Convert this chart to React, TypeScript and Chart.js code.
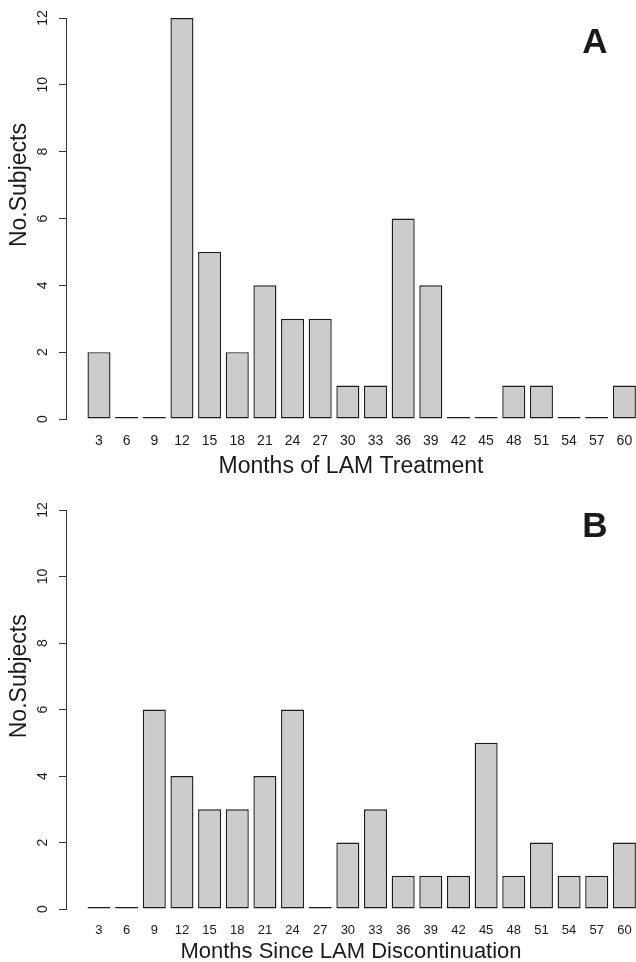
import React, { useEffect, useRef } from "react";
import { Chart, registerables } from "chart.js";

Chart.register(...registerables);

const months = [3, 6, 9, 12, 15, 18, 21, 24, 27, 30, 33, 36, 39, 42, 45, 48, 51, 54, 57, 60];
const treatmentCounts = [2, 0, 0, 12, 5, 2, 4, 3, 3, 1, 1, 6, 4, 0, 0, 1, 1, 0, 0, 1];
const discontinuationCounts = [0, 0, 6, 4, 3, 3, 4, 6, 0, 2, 3, 1, 1, 1, 5, 1, 2, 1, 1, 2];
const yTicks = [0, 2, 4, 6, 8, 10, 12];
const yTitle = "No.Subjects";
const xTitleA = "Months of LAM Treatment";
const xTitleB = "Months Since LAM Discontinuation";

const FONT = '"Liberation Sans", Arial, Helvetica, sans-serif';
const INK = "#1a1a1a";

const textPlugin = {
  id: "rText",
  afterDraw(chart: any, _args: any, opts: any) {
    const ctx = chart.ctx;
    const ys = chart.scales.y;
    const left = chart.chartArea.left;
    ctx.save();
    ctx.fillStyle = INK;
    ctx.textAlign = "center";
    ctx.textBaseline = "alphabetic";
    ctx.font = `14px ${FONT}`;
    for (const t of ys.ticks) {
      const py = ys.getPixelForValue(t.value);
      ctx.save();
      ctx.translate(left - 19, py);
      ctx.rotate(-Math.PI / 2);
      ctx.fillText(String(t.value), 0, 0);
      ctx.restore();
    }
    ctx.font = `23px ${FONT}`;
    ctx.save();
    ctx.translate(left - 40, ys.getPixelForValue(7));
    ctx.rotate(-Math.PI / 2);
    ctx.fillText(opts.yTitle, 0, 0);
    ctx.restore();
    ctx.font = `bold 35px ${FONT}`;
    ctx.fillText(opts.letter, 595, opts.letterY);
    ctx.restore();
  },
};

type PanelProps = {
  values: number[];
  letter: string;
  xTitle: string;
  topPad: number;
  xHeight: number;
  titlePadBottom: number;
  letterY: number;
  tickSize: number;
  tickPad: number;
  titleSize: number;
};

function Panel(p: PanelProps) {
  const ref = useRef<HTMLCanvasElement | null>(null);
  useEffect(() => {
    if (!ref.current) return;
    const data = p.values.map((v, i) => ({ x: i, y: v }));
    const chart = new Chart(ref.current, {
      type: "bar",
      data: {
        datasets: [
          {
            data: data as any,
            backgroundColor: "#cccccc",
            borderColor: "#1c1c1c",
            borderWidth: 1.4,
            borderSkipped: false,
            minBarLength: 2,
            categoryPercentage: 1,
            barPercentage: 0.833,
          },
        ],
      },
      options: {
        animation: false,
        responsive: false,
        devicePixelRatio: 1,
        layout: { padding: { top: p.topPad, left: 0, right: 0, bottom: 0 } },
        plugins: {
          legend: { display: false },
          tooltip: { enabled: false },
          rText: { letter: p.letter, yTitle, letterY: p.letterY },
        } as any,
        scales: {
          x: {
            type: "linear",
            min: -1.193,
            max: 19.42,
            offset: false,
            grid: { display: false, drawTicks: false, offset: false },
            border: { display: false },
            afterBuildTicks: (s: any) => {
              s.ticks = months.map((_, i) => ({ value: i }));
            },
            afterFit: (s: any) => {
              s.height = p.xHeight;
              s.paddingLeft = 0;
              s.paddingRight = 0;
            },
            ticks: {
              autoSkip: false,
              maxRotation: 0,
              minRotation: 0,
              padding: p.tickPad,
              color: INK,
              font: { family: FONT, size: p.tickSize },
              callback: (v: any) => String(months[Math.round(Number(v))] ?? ""),
            },
            title: {
              display: true,
              text: p.xTitle,
              color: INK,
              font: { family: FONT, size: p.titleSize, lineHeight: 1 },
              padding: { top: 0, bottom: p.titlePadBottom },
            },
          },
          y: {
            type: "linear",
            min: 0,
            max: 12,
            afterBuildTicks: (s: any) => {
              s.ticks = yTicks.map((v) => ({ value: v }));
            },
            afterFit: (s: any) => {
              s.width = 66;
              s.paddingTop = 0;
              s.paddingBottom = 0;
            },
            grid: {
              display: true,
              drawOnChartArea: false,
              drawTicks: true,
              tickLength: 7,
              color: "#333333",
              lineWidth: 1,
            },
            border: { display: true, color: "#333333", width: 1 },
            ticks: { display: false },
          },
        },
      },
      plugins: [textPlugin as any],
    });
    return () => chart.destroy();
  }, []);
  return <canvas ref={ref} width={636} height={481} style={{ display: "block" }} />;
}

export default function App() {
  return (
    <div style={{ position: "absolute", left: 0, top: 0, width: 636, height: 962, background: "#fff" }}>
      <Panel
        values={treatmentCounts}
        letter="A"
        xTitle={xTitleA}
        topPad={18}
        xHeight={62}
        titlePadBottom={3}
        letterY={53}
        tickSize={14}
        tickPad={14}
        titleSize={23}
      />
      <Panel
        values={discontinuationCounts}
        letter="B"
        xTitle={xTitleB}
        topPad={29}
        xHeight={53}
        titlePadBottom={-1}
        letterY={56}
        tickSize={13}
        tickPad={14}
        titleSize={22}
      />
    </div>
  );
}
